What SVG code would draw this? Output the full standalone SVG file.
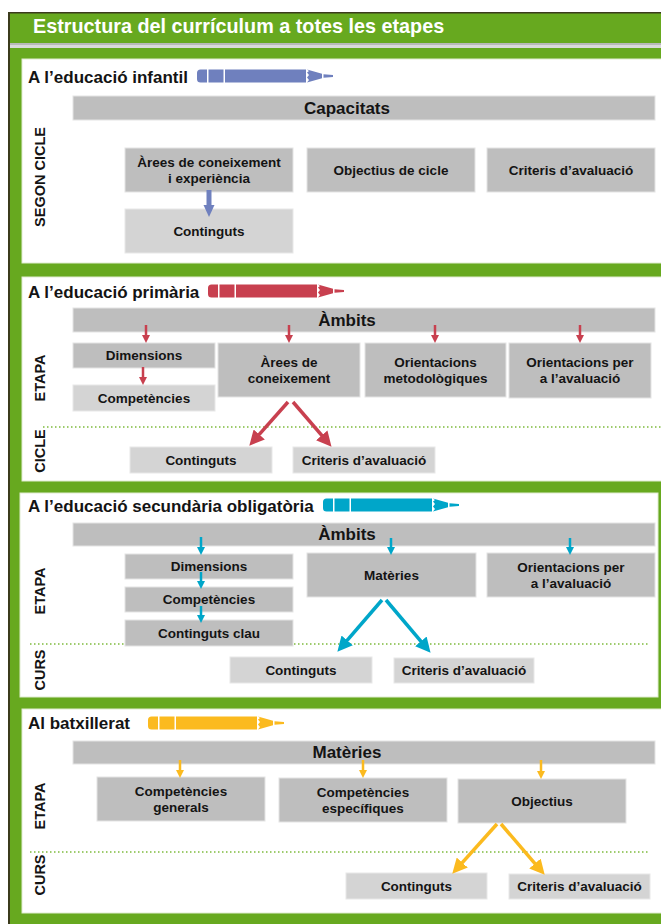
<svg xmlns="http://www.w3.org/2000/svg" width="661" height="924" viewBox="0 0 661 924">
<style>
text{font-family:"Liberation Sans",Arial,sans-serif;font-weight:bold;fill:#141414}
.t{font-size:19.8px;fill:#fff}
.h{font-size:17px}
.bar{font-size:17px;text-anchor:middle}
.b{font-size:13.5px;text-anchor:middle}
.side{font-size:14.5px;text-anchor:middle}
.panel{fill:#fff;stroke:#dfeccf;stroke-width:1}
.dk{fill:#bebebe;stroke:#e4e4e4;stroke-width:1}
.lt{fill:#d4d4d4;stroke:#e8e8e8;stroke-width:1}
.dot{stroke:#7dbb3c;stroke-width:1.5;stroke-dasharray:1.5 2.5;fill:none}
.ab{stroke:#6f80be;stroke-width:5;fill:none}
.ar{stroke:#c8404f;fill:none}
.ac{stroke:#00a6c9;fill:none}
.ay{stroke:#fbba1f;fill:none}
.s{stroke-width:2.5}
.d{stroke-width:3.5}
</style>
<defs>
<marker id="mB" markerUnits="userSpaceOnUse" markerWidth="12" markerHeight="12" refX="6" refY="6" orient="auto"><path d="M0,0.5 L12,6 L0,11.5 Z" fill="#6f80be"/></marker>
<marker id="mR" markerUnits="userSpaceOnUse" markerWidth="8" markerHeight="8" refX="4" refY="4" orient="auto"><path d="M0,0 L8,4 L0,8 Z" fill="#c8404f"/></marker>
<marker id="mC" markerUnits="userSpaceOnUse" markerWidth="8" markerHeight="8" refX="4" refY="4" orient="auto"><path d="M0,0 L8,4 L0,8 Z" fill="#00a6c9"/></marker>
<marker id="mY" markerUnits="userSpaceOnUse" markerWidth="8" markerHeight="8" refX="4" refY="4" orient="auto"><path d="M0,0 L8,4 L0,8 Z" fill="#fbba1f"/></marker>
<marker id="dR" markerUnits="userSpaceOnUse" markerWidth="15" markerHeight="15" refX="7" refY="7.5" orient="auto"><path d="M0,0 L15,7.5 L0,15 Z" fill="#c8404f"/></marker>
<marker id="dC" markerUnits="userSpaceOnUse" markerWidth="15" markerHeight="15" refX="7" refY="7.5" orient="auto"><path d="M0,0 L15,7.5 L0,15 Z" fill="#00a6c9"/></marker>
<marker id="dY" markerUnits="userSpaceOnUse" markerWidth="15" markerHeight="15" refX="7" refY="7.5" orient="auto"><path d="M0,0 L15,7.5 L0,15 Z" fill="#fbba1f"/></marker>
<g id="pencil" fill="currentColor">
<path d="M3.5,-6.5 H10 V6.5 H3.5 Q0,6.5 0,3 V-3 Q0,-6.5 3.5,-6.5 Z"/>
<rect x="11.5" y="-6.5" width="15" height="13"/>
<rect x="28" y="-6.5" width="81" height="13"/>
<path d="M110,-6.5 L125,-2.2 L125,2.2 L110,6.5 L112,4 L110,1.5 L112,-1 L110,-3.5 L112,-5 Z"/>
<path d="M126.5,-1.8 L136,-1.1 L136,1.1 L126.5,1.8 Z"/>
</g>
</defs>
<rect x="0" y="0" width="661" height="924" fill="#fff"/>
<g id="frame">
<rect x="8" y="12" width="653" height="912" fill="#3b3b1c"/>
<rect x="10" y="13.5" width="651" height="910.5" fill="#67a91f"/>
<rect x="10" y="43" width="651" height="2" fill="#b9b9b9"/>
<rect x="10" y="45" width="651" height="3" fill="#dadada"/>
<text class="t" x="33" y="33">Estructura del currículum a totes les etapes</text>
<rect class="panel" x="22" y="59" width="640" height="204"/>
<rect class="panel" x="22" y="277" width="640" height="204"/>
<rect class="panel" x="20" y="493" width="638" height="204"/>
<rect class="panel" x="22" y="709" width="640" height="204"/>
</g>

<g id="sec-infantil">
<text class="h" x="28" y="82.5">A l’educació infantil</text>
<use href="#pencil" x="197" y="76" style="color:#6f80be"/>
<text class="side" transform="translate(45,177) rotate(-90)">SEGON CICLE</text>
</g>
<g id="n-capacitats"><rect class="dk" x="73" y="96" width="582" height="24"/><text class="bar" x="347" y="114">Capacitats</text></g>
<g id="n-arees-inf"><rect class="dk" x="125" y="148" width="168" height="44"/><text class="b" x="209" y="167">Àrees de coneixement</text><text class="b" x="209" y="183">i experiència</text></g>
<g id="n-objcicle"><rect class="dk" x="307" y="148" width="168" height="44"/><text class="b" x="391" y="175">Objectius de cicle</text></g>
<g id="n-crit-inf"><rect class="dk" x="487" y="148" width="168" height="44"/><text class="b" x="571" y="175">Criteris d’avaluació</text></g>
<g id="n-cont-inf"><rect class="lt" x="125" y="209" width="168" height="44"/><text class="b" x="209" y="236">Continguts</text></g>

<g id="sec-primaria">
<text class="h" x="28" y="297.5">A l’educació primària</text>
<use href="#pencil" x="208" y="291" style="color:#c8404f"/>
<text class="side" transform="translate(45,378) rotate(-90)">ETAPA</text>
<text class="side" transform="translate(45,451) rotate(-90)">CICLE</text>
<line class="dot" x1="43" y1="427" x2="661" y2="427"/>
</g>
<g id="n-ambits-pri"><rect class="dk" x="73" y="308" width="582" height="24"/><text class="bar" x="347" y="326">Àmbits</text></g>
<g id="n-dim-pri"><rect class="dk" x="73" y="343" width="142" height="25"/><text class="b" x="144" y="360">Dimensions</text></g>
<g id="n-comp-pri"><rect class="lt" x="73" y="385" width="142" height="26"/><text class="b" x="144" y="403">Competències</text></g>
<g id="n-arees-pri"><rect class="dk" x="218" y="343" width="142" height="54"/><text class="b" x="289" y="367">Àrees de</text><text class="b" x="289" y="383">coneixement</text></g>
<g id="n-orimet"><rect class="dk" x="365" y="343" width="141" height="54"/><text class="b" x="435.5" y="367">Orientacions</text><text class="b" x="435.5" y="383">metodològiques</text></g>
<g id="n-orav-pri"><rect class="dk" x="509" y="343" width="142" height="55"/><text class="b" x="580" y="367">Orientacions per</text><text class="b" x="580" y="383">a l’avaluació</text></g>
<g id="n-cont-pri"><rect class="lt" x="130" y="447" width="142" height="26"/><text class="b" x="201" y="465">Continguts</text></g>
<g id="n-crit-pri"><rect class="lt" x="293" y="447" width="142" height="26"/><text class="b" x="364" y="465">Criteris d’avaluació</text></g>

<g id="sec-eso">
<text class="h" x="28" y="512">A l’educació secundària obligatòria</text>
<use href="#pencil" x="323" y="505" style="color:#00a6c9"/>
<text class="side" transform="translate(45,591) rotate(-90)">ETAPA</text>
<text class="side" transform="translate(45,670) rotate(-90)">CURS</text>
<line class="dot" x1="30" y1="644" x2="650" y2="644"/>
</g>
<g id="n-ambits-eso"><rect class="dk" x="73" y="523" width="582" height="23"/><text class="bar" x="347" y="540">Àmbits</text></g>
<g id="n-dim-eso"><rect class="dk" x="125" y="554" width="168" height="25"/><text class="b" x="209" y="571">Dimensions</text></g>
<g id="n-comp-eso"><rect class="dk" x="125" y="587" width="168" height="25"/><text class="b" x="209" y="604">Competències</text></g>
<g id="n-contclau"><rect class="dk" x="125" y="620" width="168" height="26"/><text class="b" x="209" y="638">Continguts clau</text></g>
<g id="n-mat-eso"><rect class="dk" x="307" y="553" width="169" height="44"/><text class="b" x="391.5" y="580">Matèries</text></g>
<g id="n-orav-eso"><rect class="dk" x="487" y="553" width="168" height="44"/><text class="b" x="571" y="572">Orientacions per</text><text class="b" x="571" y="588">a l’avaluació</text></g>
<g id="n-cont-eso"><rect class="lt" x="230" y="657" width="142" height="26"/><text class="b" x="301" y="675">Continguts</text></g>
<g id="n-crit-eso"><rect class="lt" x="394" y="658" width="140" height="25"/><text class="b" x="464" y="675">Criteris d’avaluació</text></g>

<g id="sec-batx">
<text class="h" x="28" y="728.5">Al batxillerat</text>
<use href="#pencil" x="148" y="723" style="color:#fbba1f"/>
<text class="side" transform="translate(45,806) rotate(-90)">ETAPA</text>
<text class="side" transform="translate(45,875) rotate(-90)">CURS</text>
<line class="dot" x1="30" y1="852" x2="648" y2="852"/>
</g>
<g id="n-mat-bat"><rect class="dk" x="73" y="741" width="582" height="23"/><text class="bar" x="347" y="758">Matèries</text></g>
<g id="n-compgen"><rect class="dk" x="97" y="777" width="168" height="44"/><text class="b" x="181" y="796">Competències</text><text class="b" x="181" y="812">generals</text></g>
<g id="n-compesp"><rect class="dk" x="279" y="778" width="168" height="44"/><text class="b" x="363" y="797">Competències</text><text class="b" x="363" y="813">específiques</text></g>
<g id="n-objectius"><rect class="dk" x="458" y="779" width="168" height="44"/><text class="b" x="542" y="806">Objectius</text></g>
<g id="n-cont-bat"><rect class="lt" x="346" y="873" width="141" height="26"/><text class="b" x="416.5" y="891">Continguts</text></g>
<g id="n-crit-bat"><rect class="lt" x="509" y="874" width="141" height="25"/><text class="b" x="579.5" y="891">Criteris d’avaluació</text></g>

<g id="connectors">
<line class="ab" x1="209" y1="190" x2="209" y2="211" marker-end="url(#mB)"/>
<line class="ar s" x1="146" y1="325" x2="146" y2="339" marker-end="url(#mR)"/>
<line class="ar s" x1="289" y1="325" x2="289" y2="339" marker-end="url(#mR)"/>
<line class="ar s" x1="435" y1="325" x2="435" y2="339" marker-end="url(#mR)"/>
<line class="ar s" x1="580" y1="325" x2="580" y2="339" marker-end="url(#mR)"/>
<line class="ar s" x1="143" y1="367" x2="143" y2="381" marker-end="url(#mR)"/>
<line class="ar d" x1="288" y1="402" x2="254.6" y2="439.7" marker-end="url(#dR)"/>
<line class="ar d" x1="293" y1="402" x2="326.3" y2="440.6" marker-end="url(#dR)"/>
<line class="ac s" x1="201" y1="537" x2="201" y2="551" marker-end="url(#mC)"/>
<line class="ac s" x1="201" y1="572" x2="201" y2="585" marker-end="url(#mC)"/>
<line class="ac s" x1="201" y1="606" x2="201" y2="619" marker-end="url(#mC)"/>
<line class="ac s" x1="391" y1="538" x2="391" y2="551" marker-end="url(#mC)"/>
<line class="ac s" x1="570" y1="538" x2="570" y2="551" marker-end="url(#mC)"/>
<line class="ac d" x1="382" y1="600" x2="342.6" y2="645.7" marker-end="url(#dC)"/>
<line class="ac d" x1="386" y1="600" x2="425.4" y2="646.7" marker-end="url(#dC)"/>
<line class="ay s" x1="180" y1="760" x2="180" y2="774" marker-end="url(#mY)"/>
<line class="ay s" x1="363" y1="760" x2="363" y2="774" marker-end="url(#mY)"/>
<line class="ay s" x1="541" y1="760" x2="541" y2="775" marker-end="url(#mY)"/>
<line class="ay d" x1="497" y1="824" x2="457.6" y2="867.8" marker-end="url(#dY)"/>
<line class="ay d" x1="501" y1="824" x2="539.5" y2="868.8" marker-end="url(#dY)"/>
</g>
</svg>
